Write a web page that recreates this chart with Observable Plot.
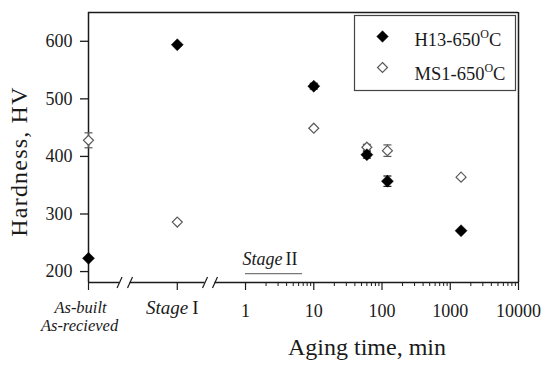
<!DOCTYPE html>
<html><head><meta charset="utf-8">
<script src="https://cdn.jsdelivr.net/npm/d3@7"></script>
<script src="https://cdn.jsdelivr.net/npm/@observablehq/plot@0.6"></script>
<style>body{margin:0;background:#fff;}</style>
</head><body><div id="chart"></div>
<script>
// ---- data ----
const conditions = ["As-built / As-received", "Stage I", 10, 60, 120, 1440]; // aging time, min
const h13Hardness = [223, 594, 522, 403, 357, 271];
const h13Error    = [0, 0, 5, 6, 9, 0];
const ms1Hardness = [428, 286, 449, 416, 410, 364];
const ms1Error    = [13, 0, 0, 5, 10, 0];
const seriesNames = ["H13-650^O^C", "MS1-650^O^C"];
const yTicks = [200, 300, 400, 500, 600];
const xMajorTicks = [1, 10, 100, 1000, 10000];

// ---- layout ----
const X_MIN = 0.005, X_MAX = 10000, Y_MIN = 181, Y_MAX = 650;
const catPos = {"As-built / As-received": X_MIN, "Stage I": 0.1};
const xOf = c => typeof c === "number" ? c : catPos[c];
const breaks = [0.01425, 0.0203, 0.255, 0.357];
const axisSegments = [[X_MIN, breaks[0]], [breaks[1], breaks[2]], [breaks[3], X_MAX]];

const h13 = conditions.map((c, i) => ({x: xOf(c), y: h13Hardness[i], e: h13Error[i]}));
const ms1 = conditions.map((c, i) => ({x: xOf(c), y: ms1Hardness[i], e: ms1Error[i]}));
const minorTicks = [];
for (const p of [1, 10, 100, 1000]) for (let k = 2; k <= 9; k++) minorTicks.push(k * p);

const capSymbol = {draw(ctx) { ctx.moveTo(-4, 0); ctx.lineTo(4, 0); }};
const slashSymbol = {draw(ctx) { ctx.moveTo(-2.5, 5.5); ctx.lineTo(2.5, -5.5); }};

const INK = "#1a1a1a", GREY = "#5a5a5a";
const errMarks = (rows, color) => {
  const r = rows.filter(d => d.e > 0);
  return [
    Plot.ruleX(r, {x: "x", y1: d => d.y - d.e, y2: d => d.y + d.e, stroke: color, strokeWidth: 1.2}),
    Plot.dot(r, {x: "x", y: d => d.y + d.e, symbol: capSymbol, stroke: color, fill: "none", strokeWidth: 1.2}),
    Plot.dot(r, {x: "x", y: d => d.y - d.e, symbol: capSymbol, stroke: color, fill: "none", strokeWidth: 1.2})
  ];
};
const T = {lineAnchor: "middle"};

const svg = Plot.plot({
  width: 550, height: 366,
  marginLeft: 88, marginRight: 32, marginTop: 12, marginBottom: 84,
  x: {type: "log", domain: [X_MIN, X_MAX]},
  y: {domain: [Y_MIN, Y_MAX]},
  style: {fontFamily: "'Liberation Serif', 'Times New Roman', serif", fontSize: "18px", color: INK, background: "#fff"},
  marks: [
    // frame (left, right, top) and broken bottom axis
    Plot.ruleX([X_MIN, X_MAX], {stroke: INK, strokeWidth: 1.5}),
    Plot.ruleY([Y_MAX], {stroke: INK, strokeWidth: 1.5}),
    Plot.ruleY(axisSegments, {x1: d => d[0], x2: d => d[1], y: () => Y_MIN, stroke: INK, strokeWidth: 1.5}),
    Plot.dot(breaks, {x: d => d, y: () => Y_MIN, symbol: slashSymbol, stroke: INK, fill: "none", strokeWidth: 1.2}),
    // axes
    Plot.axisY({ticks: yTicks, tickSize: 8, tickPadding: 8, fontSize: 18, stroke: INK, strokeWidth: 1.3, label: null}),
    Plot.axisX({ticks: xMajorTicks, tickFormat: d => String(d), tickSize: 8, tickPadding: 14, fontSize: 18, stroke: INK, strokeWidth: 1.2, label: null}),
    Plot.axisX({ticks: minorTicks, tickFormat: () => "", tickSize: 4, stroke: INK, strokeWidth: 1, label: null}),
    Plot.axisX({ticks: Object.values(catPos), tickFormat: () => "", tickSize: 8, stroke: INK, strokeWidth: 1.2, label: null}),
    // category labels
    Plot.text([catPos["As-built / As-received"]], {...T, x: d => d, frameAnchor: "bottom", dx: -8, dy: 25.3, text: () => "As-built", fontStyle: "italic", fontSize: 16.5, textAnchor: "middle"}),
    Plot.text([catPos["As-built / As-received"]], {...T, x: d => d, frameAnchor: "bottom", dx: -9, dy: 43.3, text: () => "As-recieved", fontStyle: "italic", fontSize: 16.5, textAnchor: "middle"}),
    Plot.text([catPos["Stage I"]], {...T, x: d => d, frameAnchor: "bottom", dx: 11, dy: 25.5, text: () => "Stage", fontStyle: "italic", fontSize: 19, textAnchor: "end"}),
    Plot.text([catPos["Stage I"]], {...T, x: d => d, frameAnchor: "bottom", dx: 15, dy: 25.5, text: () => "I", fontSize: 19, textAnchor: "start"}),
    // Stage II annotation
    Plot.ruleY([196.5], {x1: 1, x2: 6.84, stroke: "#777", strokeWidth: 1.2}),
    Plot.text([1], {...T, x: d => d, frameAnchor: "bottom", dx: 37, dy: -23, text: () => "Stage", fontStyle: "italic", fontSize: 18, textAnchor: "end"}),
    Plot.text([1], {...T, x: d => d, frameAnchor: "bottom", dx: 40, dy: -23, text: () => "II", fontSize: 18, textAnchor: "start"}),
    // axis titles
    Plot.text(["Aging time, min"], {...T, text: d => d, frameAnchor: "bottom-left", dx: 278.5, dy: 65.3, fontSize: 24, textAnchor: "middle"}),
    Plot.text(["Hardness, HV"], {...T, text: d => d, frameAnchor: "left", dx: -69.5, dy: 14, rotate: -90, fontSize: 24, textAnchor: "middle"}),
    // error bars
    ...errMarks(ms1, GREY),
    ...errMarks(h13, INK),
    // data
    Plot.dot(ms1, {x: "x", y: "y", symbol: "diamond2", r: 4.5, fill: "#fff", stroke: GREY, strokeWidth: 1.2}),
    Plot.dot(h13, {x: "x", y: "y", symbol: "diamond2", r: 5.4, fill: "#000", stroke: "#000", strokeWidth: 0.5}),
    // legend
    Plot.frame({insetLeft: 266, insetRight: 3, insetTop: 3, insetBottom: 192, stroke: "#444", strokeWidth: 1.2}),
    Plot.dot([0], {frameAnchor: "top-left", dx: 294, dy: 24, symbol: "diamond2", r: 5.2, fill: "#000", stroke: "#000", strokeWidth: 0.5}),
    Plot.dot([0], {frameAnchor: "top-left", dx: 294, dy: 55, symbol: "diamond2", r: 4.5, fill: "#fff", stroke: GREY, strokeWidth: 1.2}),
    Plot.text([seriesNames[0]], {...T, text: d => d, frameAnchor: "top-left", dx: 326, dy: 28, fontSize: 18.5, textAnchor: "start"}),
    Plot.text([seriesNames[1]], {...T, text: d => d, frameAnchor: "top-left", dx: 326, dy: 62, fontSize: 18.5, textAnchor: "start"})
  ]
});

// superscript degree "O" and letter spacing of the y title
d3.select(svg).selectAll("text").each(function () {
  const t = this.textContent;
  if (t.includes("^")) {
    const [a, b, c] = t.split("^");
    const s = d3.select(this); s.text(null);
    s.append("tspan").text(a);
    s.append("tspan").attr("font-size", 12).attr("dy", -8).text(b);
    s.append("tspan").attr("dy", 8).text(c);
  } else if (t === "Hardness, HV") {
    d3.select(this).attr("letter-spacing", "1.2px");
  }
});
document.getElementById("chart").appendChild(svg);
</script>
</body></html>
